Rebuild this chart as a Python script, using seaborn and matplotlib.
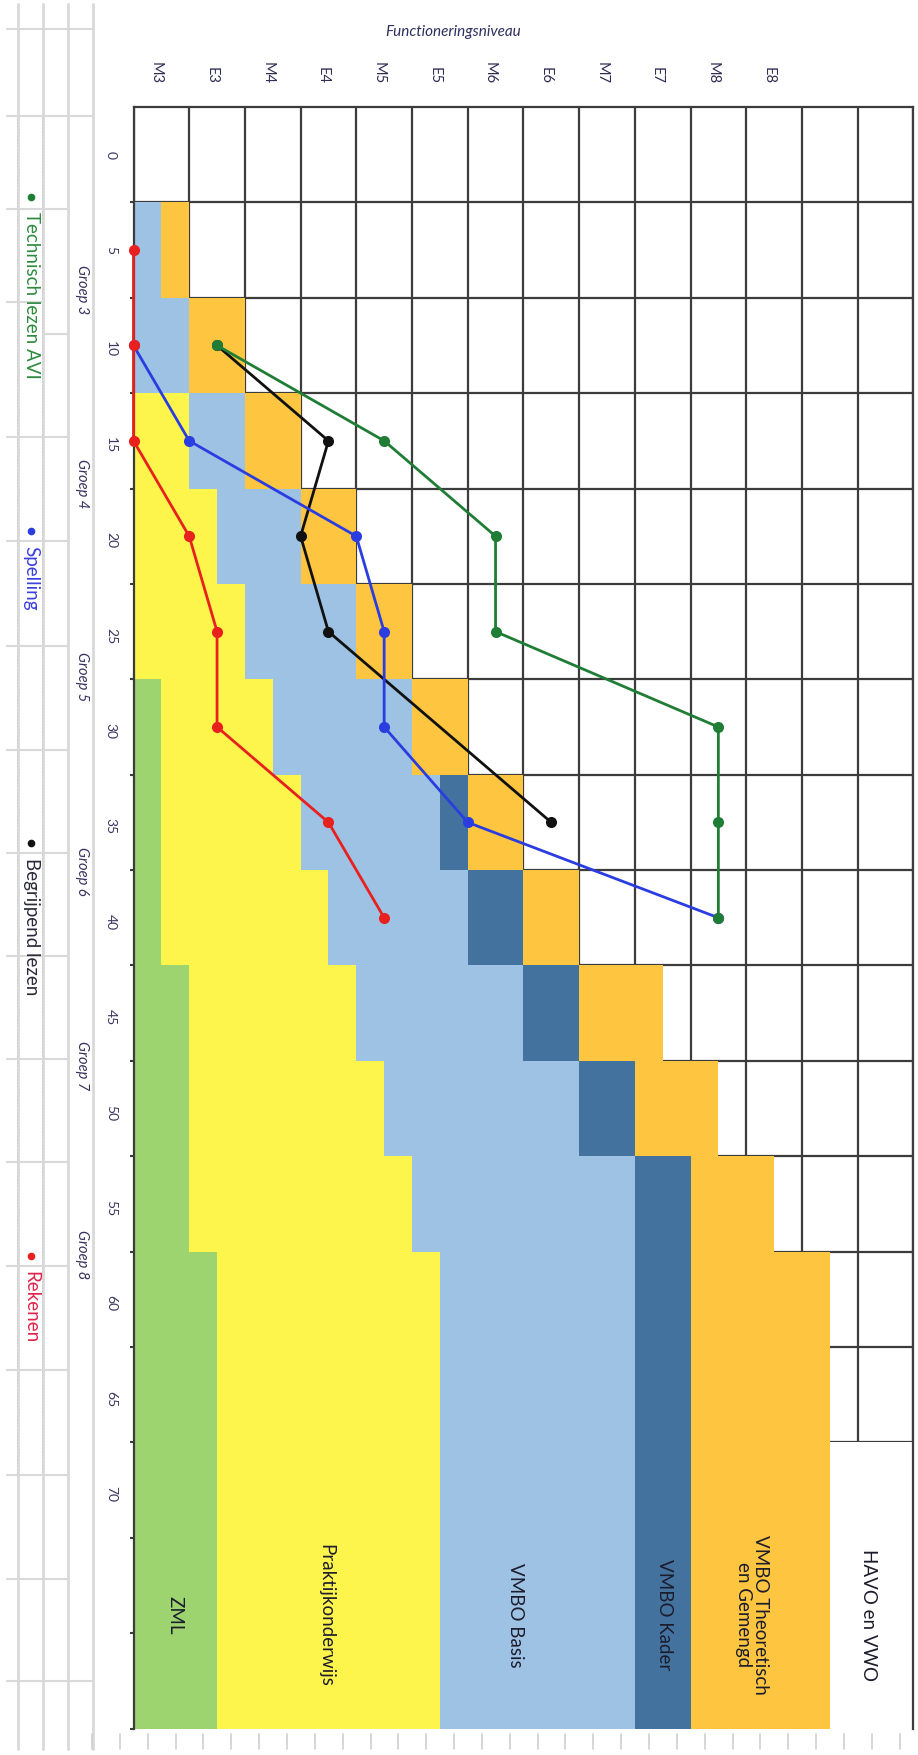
import numpy as np
import pandas as pd
import seaborn as sns
import matplotlib.pyplot as plt
from matplotlib.patches import Rectangle

# DLE-categorieen (na draaien de verticale as) en functioneringsniveaus
dle = [0, 5, 10, 15, 20, 25, 30, 35, 40, 45, 50, 55, 60, 65, 70, 75, 80]
dle_labels = ['0', '5', '10', '15', '20', '25', '30', '35', '40', '45', '50',
              '55', '60', '65', '70', '', '']
niveaus = ['M3', 'E3', 'M4', 'E4', 'M5', 'E5', 'M6', 'E6', 'M7', 'E7', 'M8', 'E8']
groepen = ['Groep 3', 'Groep 4', 'Groep 5', 'Groep 6', 'Groep 7', 'Groep 8']
groep_dle = [7.0, 17.2, 27.3, 37.5, 47.7, 57.6]

# breedte van elke uitstroomband per DLE (in niveaustappen)
zml = [0, 0, 0, 0, 0, 0, .5, .5, .5, 1, 1, 1, 1.5, 1.5, 1.5, 1.5, 1.5]
praktijk = [0, 0, 0, 1, 1.5, 2, 2, 2.5, 3, 3, 3.5, 4, 4, 4, 4, 4, 4]
basis = [0, .5, 1, 1, 1.5, 2, 2.5, 2.5, 2.5, 3, 3.5, 4, 3.5, 3.5, 3.5, 3.5, 3.5]
kader = [0, 0, 0, 0, 0, 0, 0, .5, 1, 1, 1, 1, 1, 1, 1, 1, 1]
theoretisch = [0, .5, 1, 1, 1, 1, 1, 1, 1, 1.5, 1.5, 1.5, 2.5, 2.5, 2.5, 2.5, 2.5]
havo = [0, 0, 0, 0, 0, 0, 0, 0, 0, 0, 0, 0, 0, 0, 1.5, 1.5, 1.5]
band_namen = ['ZML', 'Praktijkonderwijs', 'VMBO Basis', 'VMBO Kader',
              'VMBO Theoretisch\nen Gemengd', 'HAVO en VWO']

# resultaten leerling
meet_dle = [5, 10, 15, 20, 25, 30, 35, 40]
technisch = [np.nan, 1.5, 4.5, 6.5, 6.5, 10.5, 10.5, 10.5]
spelling = [np.nan, 0, 1, 4, 4.5, 4.5, 6, 10.5]
begrijpend = [np.nan, 1.5, 3.5, 3, 3.5, np.nan, 7.5, np.nan]
rekenen = [0, 0, 0, 1, 1.5, 1.5, 3.5, 4.5]

sns.set_style('white')
plt.rcParams['font.family'] = ['Lato', 'DejaVu Sans']

W, H = 918, 1756
fig = plt.figure(figsize=(W / 100, H / 100), dpi=100)

# achtergrond: celranden van het werkblad + legenda
bg = fig.add_axes([0, 0, 1, 1], zorder=-1)
bg.set_xlim(0, W)
bg.set_ylim(H, 0)
bg.axis('off')
lg = '#d9d9d9'
for x in [18, 43, 68, 93]:
    bg.plot([x, x], [5, 1750], color=lg, lw=2)
for y in [30, 117]:
    bg.plot([7, 93], [y, y], color=lg, lw=1.5)
for y in [210, 438, 542, 647, 751, 854, 957, 1060, 1163, 1267, 1371, 1476, 1580]:
    bg.plot([7, 68], [y, y], color=lg, lw=1.5)
bg.plot([7, 43], [303, 303], color=lg, lw=1.5)
bg.plot([43, 68], [335, 335], color=lg, lw=1.5)
bg.plot([7, 93], [1682, 1682], color=lg, lw=1.5)
for k in range(30):
    x = 92 + 27.85 * k
    bg.plot([x, x], [1735, 1750], color='#cfcfcf', lw=1.2)
bg.add_patch(Rectangle((18, 117), 25, 1359, fill=False, ls=(0, (1, 1)),
                       lw=1.2, ec='#555555'))

legenda = [('Technisch lezen AVI', '#1f7d35', '#2e8b3e', 198),
           ('Spelling', '#2a3de0', '#3b3fe0', 532),
           ('Begrijpend lezen', '#111111', '#2a2a3a', 844),
           ('Rekenen', '#e8201e', '#e0244a', 1257)]
for naam, c, tc, y in legenda:
    bg.plot([31], [y], 'o', color=c, ms=5.5, mew=0)
    bg.text(31, y + 14, naam, rotation=-90, ha='center', va='top',
            fontsize=13.5, color=tc)

fig.text(453 / W, 1 - 32 / H, 'Functioneringsniveau', ha='center', va='center',
         fontsize=11, style='italic', color='#2f2f5f')

# hoofdgrafiek
ax = fig.add_axes([133.5 / W, 1 - 1729.5 / H, 779.8 / W, 1621.5 / H])

kleuren = ['#9dd46f', '#fdf54c', '#9dc2e4', '#44729f', '#fec640', '#ffffff']
banden = [zml, praktijk, basis, kader, theoretisch, havo]
cum = np.cumsum(np.array(banden), axis=0)
for i in range(len(banden) - 1, -1, -1):
    df = pd.DataFrame({'dle': dle, 'niveau': cum[i]})
    sns.barplot(data=df, x='niveau', y='dle', orient='h', native_scale=True,
                width=1.0, color=kleuren[i], saturation=1, errorbar=None,
                ax=ax)
for p in ax.patches:
    p.set_linewidth(0)
    p.set_edgecolor('none')

lijnen = [(begrijpend, '#111111'), (spelling, '#2a3de0'),
          (technisch, '#1f7d35'), (rekenen, '#e8201e')]
for waarden, c in lijnen:
    df = pd.DataFrame({'dle': meet_dle, 'niveau': waarden}).dropna()
    sns.lineplot(data=df, x='niveau', y='dle', sort=False, estimator=None,
                 color=c, lw=2, marker='o', markersize=8, markeredgewidth=0,
                 clip_on=False, zorder=4, ax=ax)

ax.set_xlim(0, 14)
ax.set_ylim(82.5, -2.5)
ax.set_xlabel('')
ax.set_ylabel('')

gc = '#3c3c3c'
ax.set_xticks(range(15))
ax.set_xticklabels([])
ax.set_xticks(np.arange(12) + 0.4, minor=True)
ax.set_xticklabels(niveaus, minor=True)
ax.xaxis.set_ticks_position('top')
ax.tick_params(axis='x', which='major', length=0, top=False, labeltop=False)
ax.tick_params(axis='x', which='minor', length=0, top=True, labeltop=True,
               bottom=False, labelbottom=False, labelrotation=-90, pad=17,
               labelsize=10.5, labelcolor='#2e2e55')

ax.set_yticks(dle)
ax.set_yticklabels(dle_labels)
ax.set_yticks(np.arange(2.5, 83, 5), minor=True)
ax.tick_params(axis='y', which='major', length=0, labelrotation=-90, pad=12,
               labelsize=10, labelcolor='#383860')
ax.tick_params(axis='y', which='minor', length=3, width=1.5, color=gc,
               direction='out', left=True)

ax.set_axisbelow(True)
ax.grid(True, axis='x', which='major', color=gc, lw=1.6)
ax.grid(True, axis='y', which='minor', color=gc, lw=1.6)
ax.grid(False, axis='y', which='major')
for kant in ['left', 'top', 'right']:
    ax.spines[kant].set_color(gc)
    ax.spines[kant].set_linewidth(1.6)
ax.spines['bottom'].set_visible(False)

for g, y in zip(groepen, groep_dle):
    ax.text((82 - 133.5) / 779.8, y, g, transform=ax.get_yaxis_transform(),
            rotation=-90, ha='center', va='center', fontsize=10.5,
            style='italic', color='#33335f', clip_on=False)

band_x = [0.74, 3.46, 6.85, 9.54, 11.1, 13.19]
for naam, x in zip(band_namen, band_x):
    ax.text(x, 76.5, naam, rotation=-90, ha='center', va='center',
            multialignment='center', fontsize=13.5, color='#1c1c2c',
            linespacing=1.0, zorder=5)

fig.savefig('out.png', dpi=100)
